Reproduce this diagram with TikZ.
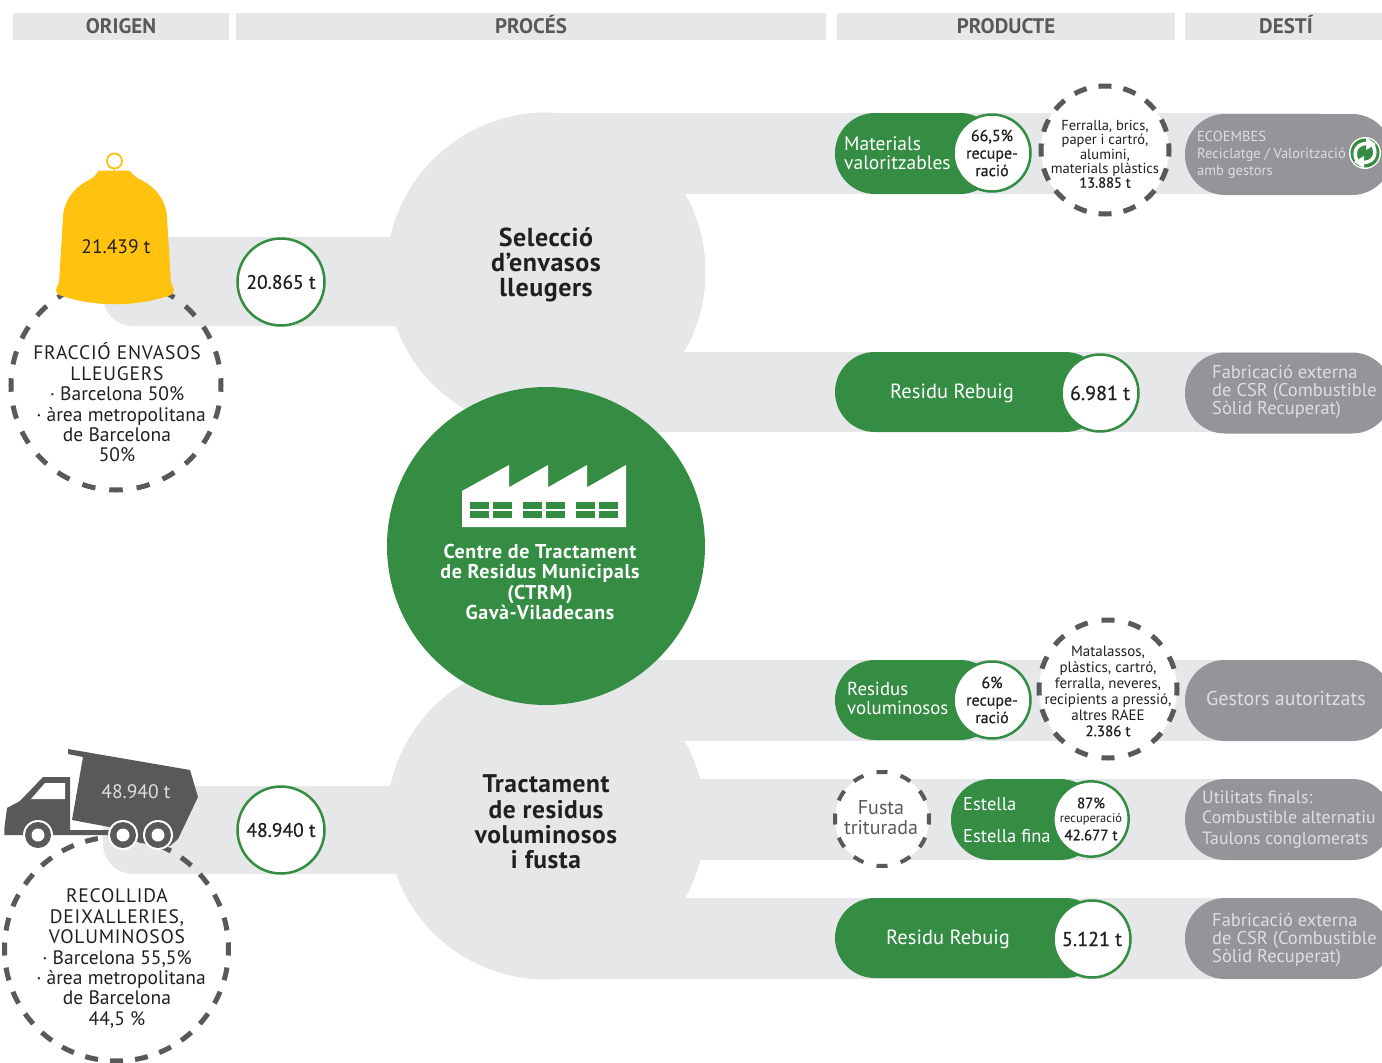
\documentclass[tikz,border=0pt]{standalone}
\usepackage{fontspec}
\setmainfont{PT Sans}
\newfontfamily\bfam{PT Sans}[LetterSpace=2]
\newfontfamily\bfamw{PT Sans}[LetterSpace=3]
\newfontfamily\medf{PT Sans}[FakeBold=0.6]
\newcommand{\fsz}[2]{\fontsize{#1}{#2}\selectfont}
\newcommand{\caps}[1]{{\addfontfeature{LetterSpace=4}#1}}
\definecolor{band}{HTML}{E6E7E8}
\definecolor{grn}{HTML}{358D44}
\definecolor{dgrey}{HTML}{58595B}
\definecolor{dest}{HTML}{939598}
\definecolor{ylw}{HTML}{FFC20F}
\definecolor{lgt}{HTML}{DDDEDF}
\definecolor{ink}{HTML}{231F20}
\tikzset{
 hdr/.style={fill=band,draw=none,text=dgrey,inner sep=0pt,minimum height=27pt,text height=14pt,text depth=0pt,font=\bfseries\fsz{21}{21}},
 badge/.style={circle,fill=white,draw=grn,line width=2.5pt,inner sep=0pt,minimum size=#1,text=ink,align=center},
 badge/.default=77pt,
 txt/.style={inner sep=0pt,align=center},
 ltxt/.style={inner sep=0pt,align=left,anchor=west,text=white},
 dtxt/.style={inner sep=0pt,align=left,anchor=west,text=lgt},
 dashring/.style={draw=dgrey,line width=5pt},
 pill/.style={fill=grn,rounded corners=40pt},
 destp/.style={fill=dest,rounded corners=40pt},
}
\begin{document}
\begin{tikzpicture}[x=1pt,y=-1pt]
\useasboundingbox (0,0) rectangle (1382,1063);
\begin{scope}
\clip (0,0) rectangle (1382,1063);
\fill[white] (0,0) rectangle (1382,1063);
% headers
\node[hdr,minimum width=216pt] (hA) at (121,26.5) {ORIGEN};
\node[hdr,minimum width=590pt] (hB) at (531,26.5) {PROCÉS};
\node[hdr,minimum width=338pt] (hC) at (1006,26.5) {PRODUCTE};
\node[hdr,minimum width=198pt] (hD) at (1284,26.5) {\hspace*{4pt}DESTÍ};
% grey bands
\fill[band] (546,272) circle (159.5);
\fill[band] (546,113) rectangle (1320,194);
\fill[band] (546,351.5) rectangle (1320,432);
\fill[band,rounded corners=30pt] (103,237) rectangle (460,326);
\fill[band] (546,820) circle (159.5);
\fill[band] (546,660) rectangle (1320,741);
\fill[band] (680,779) rectangle (1320,860);
\fill[band] (546,898) rectangle (1320,979);
\fill[band,rounded corners=30pt] (103,786) rectangle (460,874);
% left dashed rings
\draw[dashring,dash pattern=on 13.5pt off 13.99pt,dash phase=6.75pt] (116,385) circle (105);
\draw[dashring,dash pattern=on 13pt off 12.13pt,dash phase=6.5pt] (116.5,949) circle (112);
% bell
\draw[ylw,line width=1.8pt] (114.5,161) circle (7.5);
\draw[ylw,line width=1.2pt] (114.5,168) -- (114.5,172);
\fill[ylw] (100,170.5) -- (128,170.5) .. controls (131,170.5) and (134,177) .. (139,179)
  .. controls (155,186) and (166,200) .. (167,217) -- (171,283)
  .. controls (171.5,285) and (174,287) .. (174,290) .. controls (174,293) and (172,295) .. (168,296)
  .. controls (135,307) and (95,307) .. (62,296) .. controls (58,295) and (56,293) .. (56,290)
  .. controls (56,287) and (58.5,285) .. (59,283) -- (63,217)
  .. controls (64,200) and (75,186) .. (91,179) .. controls (96,177) and (97,170.5) .. (100,170.5) -- cycle;
% truck
\fill[dgrey] (68,749) -- (190,770) -- (198,797) -- (178,839) -- (170,846) -- (140,843) -- (112,827.5) -- (72,820) -- (83,757) -- (68,754) -- cycle;
\fill[dgrey] (4.5,827) -- (7,808) -- (20,801) -- (43,777) -- (70,777) -- (70,830) -- (115,830) -- (115,835) -- (4.5,835) .. controls (4.5,832) and (4,830) .. (4.5,827) -- cycle;
\fill[white] (31,799) -- (45,783) -- (65,783) -- (65,799) -- cycle;
\foreach \wx in {38,123,158}{
  \fill[white] (\wx,835) circle (15);
  \fill[dgrey] (\wx,835) circle (13);
  \fill[white] (\wx,835) circle (6.5);
}
% CTRM
\fill[grn] (546,546) circle (159);
\fill[white] (462,491) -- (509,465) -- (509,487.3) -- (548,465) -- (548,487.3) -- (587,465) -- (587,487.3) -- (626,465) -- (626,527) -- (462,527) -- cycle;
\foreach \xa/\xb in {470/488.7,493.3/511.7,523/541.7,546/565,576/594.7,599/617.7}{
  \fill[grn] (\xa,501.7) rectangle (\xb,509);
  \fill[grn] (\xa,511.3) rectangle (\xb,518.3);
}
% product pills
\fill[pill] (835,113) rectangle (1000,194);
\fill[pill] (835,352) rectangle (1105,432);
\fill[pill] (835,660) rectangle (1000,740);
\fill[pill] (951,779) rectangle (1100,860);
\fill[pill] (835,898) rectangle (1105,978);
% destination pills
\fill[destp] (1185,114) rectangle (1392,195);
\fill[destp] (1185,352.5) rectangle (1392,433.5);
\fill[destp] (1185,660) rectangle (1392,741);
\fill[destp] (1185,779) rectangle (1392,860);
\fill[destp] (1185,898) rectangle (1392,979);
% right dashed rings
\draw[dashring,fill=white,dash pattern=on 13pt off 12.13pt,dash phase=6.5pt] (1105,150) circle (64);
\draw[dashring,fill=white,dash pattern=on 13pt off 14.1pt,dash phase=6.5pt] (1108,689) circle (69);
\draw[dashring,line width=4pt,fill=white,dash pattern=on 11pt off 13.6pt,dash phase=5.5pt] (882,819) circle (47);
% recycle icon
\fill[white] (1365,153) circle (16);
\fill[grn] (1365,153) circle (14.5);
\draw[white,line width=3.5pt] (1357,161) .. controls (1352,150) and (1358,143.5) .. (1367,143.5);
\fill[white] (1366,137.5) -- (1376,144) -- (1366,150) -- cycle;
\draw[white,line width=3.5pt] (1373,145) .. controls (1378,156) and (1372,162.5) .. (1363,162.5);
\fill[white] (1364,168.5) -- (1354,162) -- (1364,156) -- cycle;
\end{scope}
% badges
\node[badge=87pt,font=\medf\fsz{19.5}{20}] (n20) at (281,282) {20.865 t};
\node[badge=87pt,font=\medf\fsz{19.5}{20}] (n48) at (281,830) {48.940 t};
\node[badge,font=\medf\fsz{16}{17.5}] (b66) at (992,153) {66,5\%\\recupe-\\ració};
\node[badge,font=\medf\fsz{20}{20}] (b6981) at (1100,393) {6.981 t};
\node[badge,font=\medf\fsz{16}{17.5}] (b6) at (992,700) {6\%\\recupe-\\ració};
\node[badge=75pt,font=\fsz{12.5}{15}] (b87) at (1091,819) {{\medf\fsz{15}{15}87\%}\\[-1pt]recuperació\\[3pt]{\medf\fsz{15}{15}42.677 t}};
\node[badge,font=\medf\fsz{20}{20}] (b5121) at (1092,939) {5.121 t};
% texts
\node[txt,text=ink,font=\fsz{19.5}{20}] (bell) at (116,247) {21.439 t};
\node[txt,text=lgt,font=\fsz{19.5}{20}] (trk) at (136,792) {48.940 t};
\node[txt,text=ink,font=\fsz{19.5}{20.4}] (fr) at (117,402.5) {\caps{FRACCIÓ ENVASOS}\\\caps{LLEUGERS}\\· Barcelona 50\%\\\hspace*{8pt}· àrea metropolitana\\de Barcelona\\50\%};
\node[txt,text=ink,font=\fsz{19.5}{20.4}] (re) at (117,958.5) {\caps{RECOLLIDA}\\\caps{DEIXALLERIES,}\\\caps{VOLUMINOSOS}\\· Barcelona 55,5\%\\\hspace*{8pt}· àrea metropolitana\\de Barcelona\\44,5 \%};
\node[txt,text=ink,font=\bfam\bfseries\fsz{26}{25}] (se) at (546,265) {Selecció\\d’envasos\\lleugers};
\node[txt,text=ink,font=\bfam\bfseries\fsz{25.5}{25.4}] (tr) at (546,822) {Tractament\\de residus\\voluminosos\\i fusta};
\node[txt,text=white,font=\bfamw\bfseries\fsz{20}{20.5}] (ct) at (540,582) {Centre de Tractament\\de Residus Municipals\\(CTRM)\\Gavà-Viladecans};
\node[ltxt,font=\fsz{19.5}{19}] (mv) at (844,153.5) {Materials\\valoritzables};
\node[txt,text=ink,font=\fsz{14.5}{14.3}] (fe) at (1105,154) {Ferralla, brics,\\paper i cartró,\\alumini,\\materials plàstics\\{\medf 13.885 t}};
\node[dtxt,font=\fsz{14.5}{17}] (ec) at (1197,155) {ECOEMBES\\Reciclatge / Valorització\\amb gestors};
\node[ltxt,anchor=center,font=\fsz{20.5}{20}] (rr1) at (952,393) {Residu Rebuig};
\node[dtxt,font=\fsz{18.5}{18}] (fa1) at (1212,392) {Fabricació externa\\de CSR (Combustible\\Sòlid Recuperat)};
\node[ltxt,font=\fsz{18.8}{19}] (rv) at (847,698.5) {Residus\\voluminosos};
\node[txt,text=ink,font=\fsz{15}{16}] (ma) at (1108,691) {Matalassos,\\plàstics, cartró,\\ferralla, neveres,\\recipients a pressió,\\altres RAEE\\{\medf 2.386 t}};
\node[dtxt,anchor=center,font=\fsz{20}{20}] (ge) at (1286,698.5) {Gestors autoritzats};
\node[txt,text=dgrey,font=\fsz{20}{20}] (fu) at (881,818) {Fusta\\triturada};
\node[ltxt,font=\fsz{18.5}{19}] (e1) at (963,804) {Estella};
\node[ltxt,font=\fsz{18.5}{19}] (e2) at (963,836) {Estella fina};
\node[dtxt,font=\fsz{17.8}{20.5}] (ut) at (1202,819.5) {Utilitats finals:\\Combustible alternatiu\\Taulons conglomerats};
\node[ltxt,anchor=center,font=\fsz{20.5}{20}] (rr2) at (948,939) {Residu Rebuig};
\node[dtxt,font=\fsz{18.5}{18}] (fa2) at (1212,940) {Fabricació externa\\de CSR (Combustible\\Sòlid Recuperat)};
\end{tikzpicture}
\end{document}
